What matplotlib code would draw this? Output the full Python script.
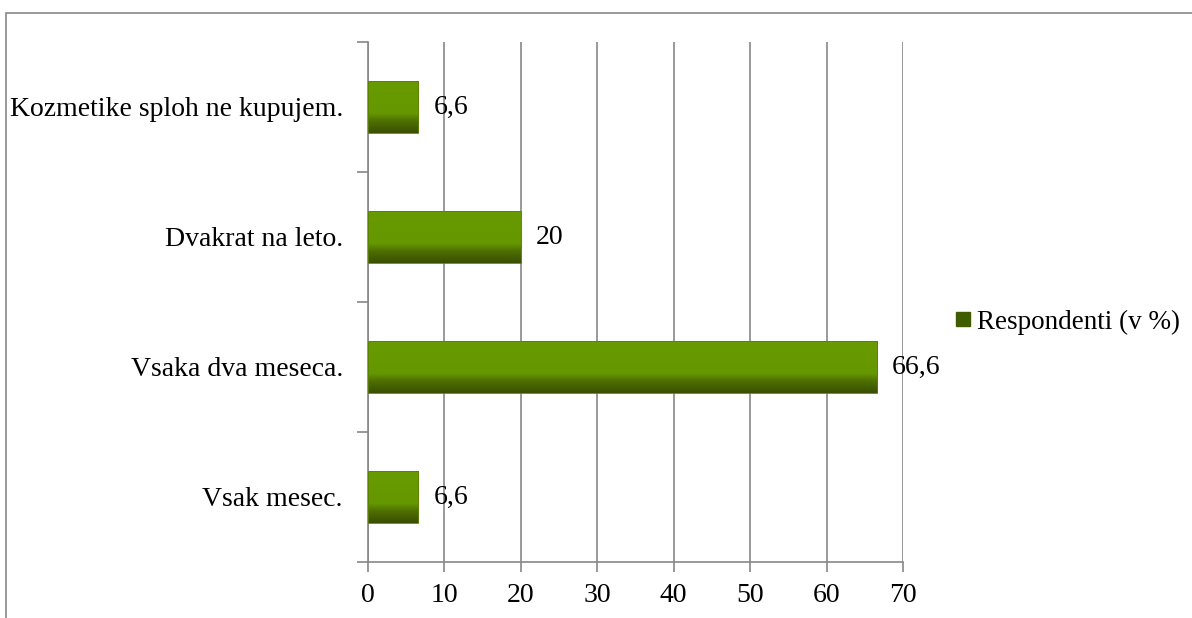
import numpy as np
import matplotlib.pyplot as plt
from matplotlib.colors import LinearSegmentedColormap
from matplotlib.patches import Rectangle
from matplotlib.lines import Line2D

categories = ['Vsak mesec.', 'Vsaka dva meseca.', 'Dvakrat na leto.',
              'Kozmetike sploh ne kupujem.']
values = [6.6, 66.6, 20, 6.6]
value_labels = ['6,6', '66,6', '20', '6,6']
series_name = 'Respondenti (v %)'
xticks = [0, 10, 20, 30, 40, 50, 60, 70]

plt.rcParams['font.family'] = ['Liberation Serif', 'DejaVu Serif']
plt.rcParams['font.size'] = 20

fig = plt.figure(figsize=(11.92, 6.18), dpi=100)
# outer chart frame
fig.patches.append(Rectangle((6 / 1192, -0.1), 1.2, 1 - 13 / 618 + 0.1,
                             transform=fig.transFigure, fill=False,
                             edgecolor='#888888', linewidth=1.2))

ax = fig.add_axes([368 / 1192, 1 - 562 / 618, (903 - 368) / 1192, (562 - 42) / 618])

# bar fill: flat green with a darker band along the bottom
grad = LinearSegmentedColormap.from_list(
    'bar', [(0, '#3a5000'), (0.22, '#4d6e00'), (0.38, '#659800'), (1, '#689a00')])
shade = np.linspace(0, 1, 100).reshape(-1, 1)

y = np.arange(len(categories))
h = 0.4
for yi, v in zip(y, values):
    ax.imshow(shade, cmap=grad, aspect='auto', origin='lower',
              extent=(0, v, yi - h / 2, yi + h / 2), zorder=3)
    ax.add_patch(Rectangle((0, yi - h / 2), v, h, fill=False,
                           edgecolor='#5a8000', linewidth=0.6, zorder=4))

for yi, v, lab in zip(y, values, value_labels):
    ax.text(v + 1.95, yi, lab, va='center', ha='left', zorder=5)

ax.set_xlim(0, 70)
ax.set_ylim(-0.5, len(categories) - 0.5)
ax.set_xticks(xticks)
ax.set_xticklabels([str(t) for t in xticks])
ax.set_yticks(y)
ax.set_yticklabels(categories)
ax.set_yticks(np.arange(-0.5, len(categories), 1), minor=True)
ax.tick_params(axis='y', which='major', length=0, pad=18)
ax.tick_params(axis='y', which='minor', length=8, color='#888888', width=1.2)
ax.tick_params(axis='x', length=7, color='#888888', width=1.2, pad=8, direction='out')

ax.grid(axis='x', color='#888888', linewidth=1.2, zorder=0)
ax.set_axisbelow(True)
for s in ['top', 'right']:
    ax.spines[s].set_visible(False)
for s in ['left', 'bottom']:
    ax.spines[s].set_color('#888888')
    ax.spines[s].set_linewidth(1.2)
ax.set_facecolor('none')

handle = Line2D([], [], marker='s', linestyle='none', markersize=9.5,
                markerfacecolor='#3f5c00', markeredgecolor='#3f5c00')
fig.legend([handle], [series_name], loc='center left',
           bbox_to_anchor=(940 / 1192, 1 - 322 / 618), frameon=False,
           handletextpad=0.15, borderpad=0, handlelength=0.7, fontsize=19.5)

fig.savefig('out.png', dpi=100)
